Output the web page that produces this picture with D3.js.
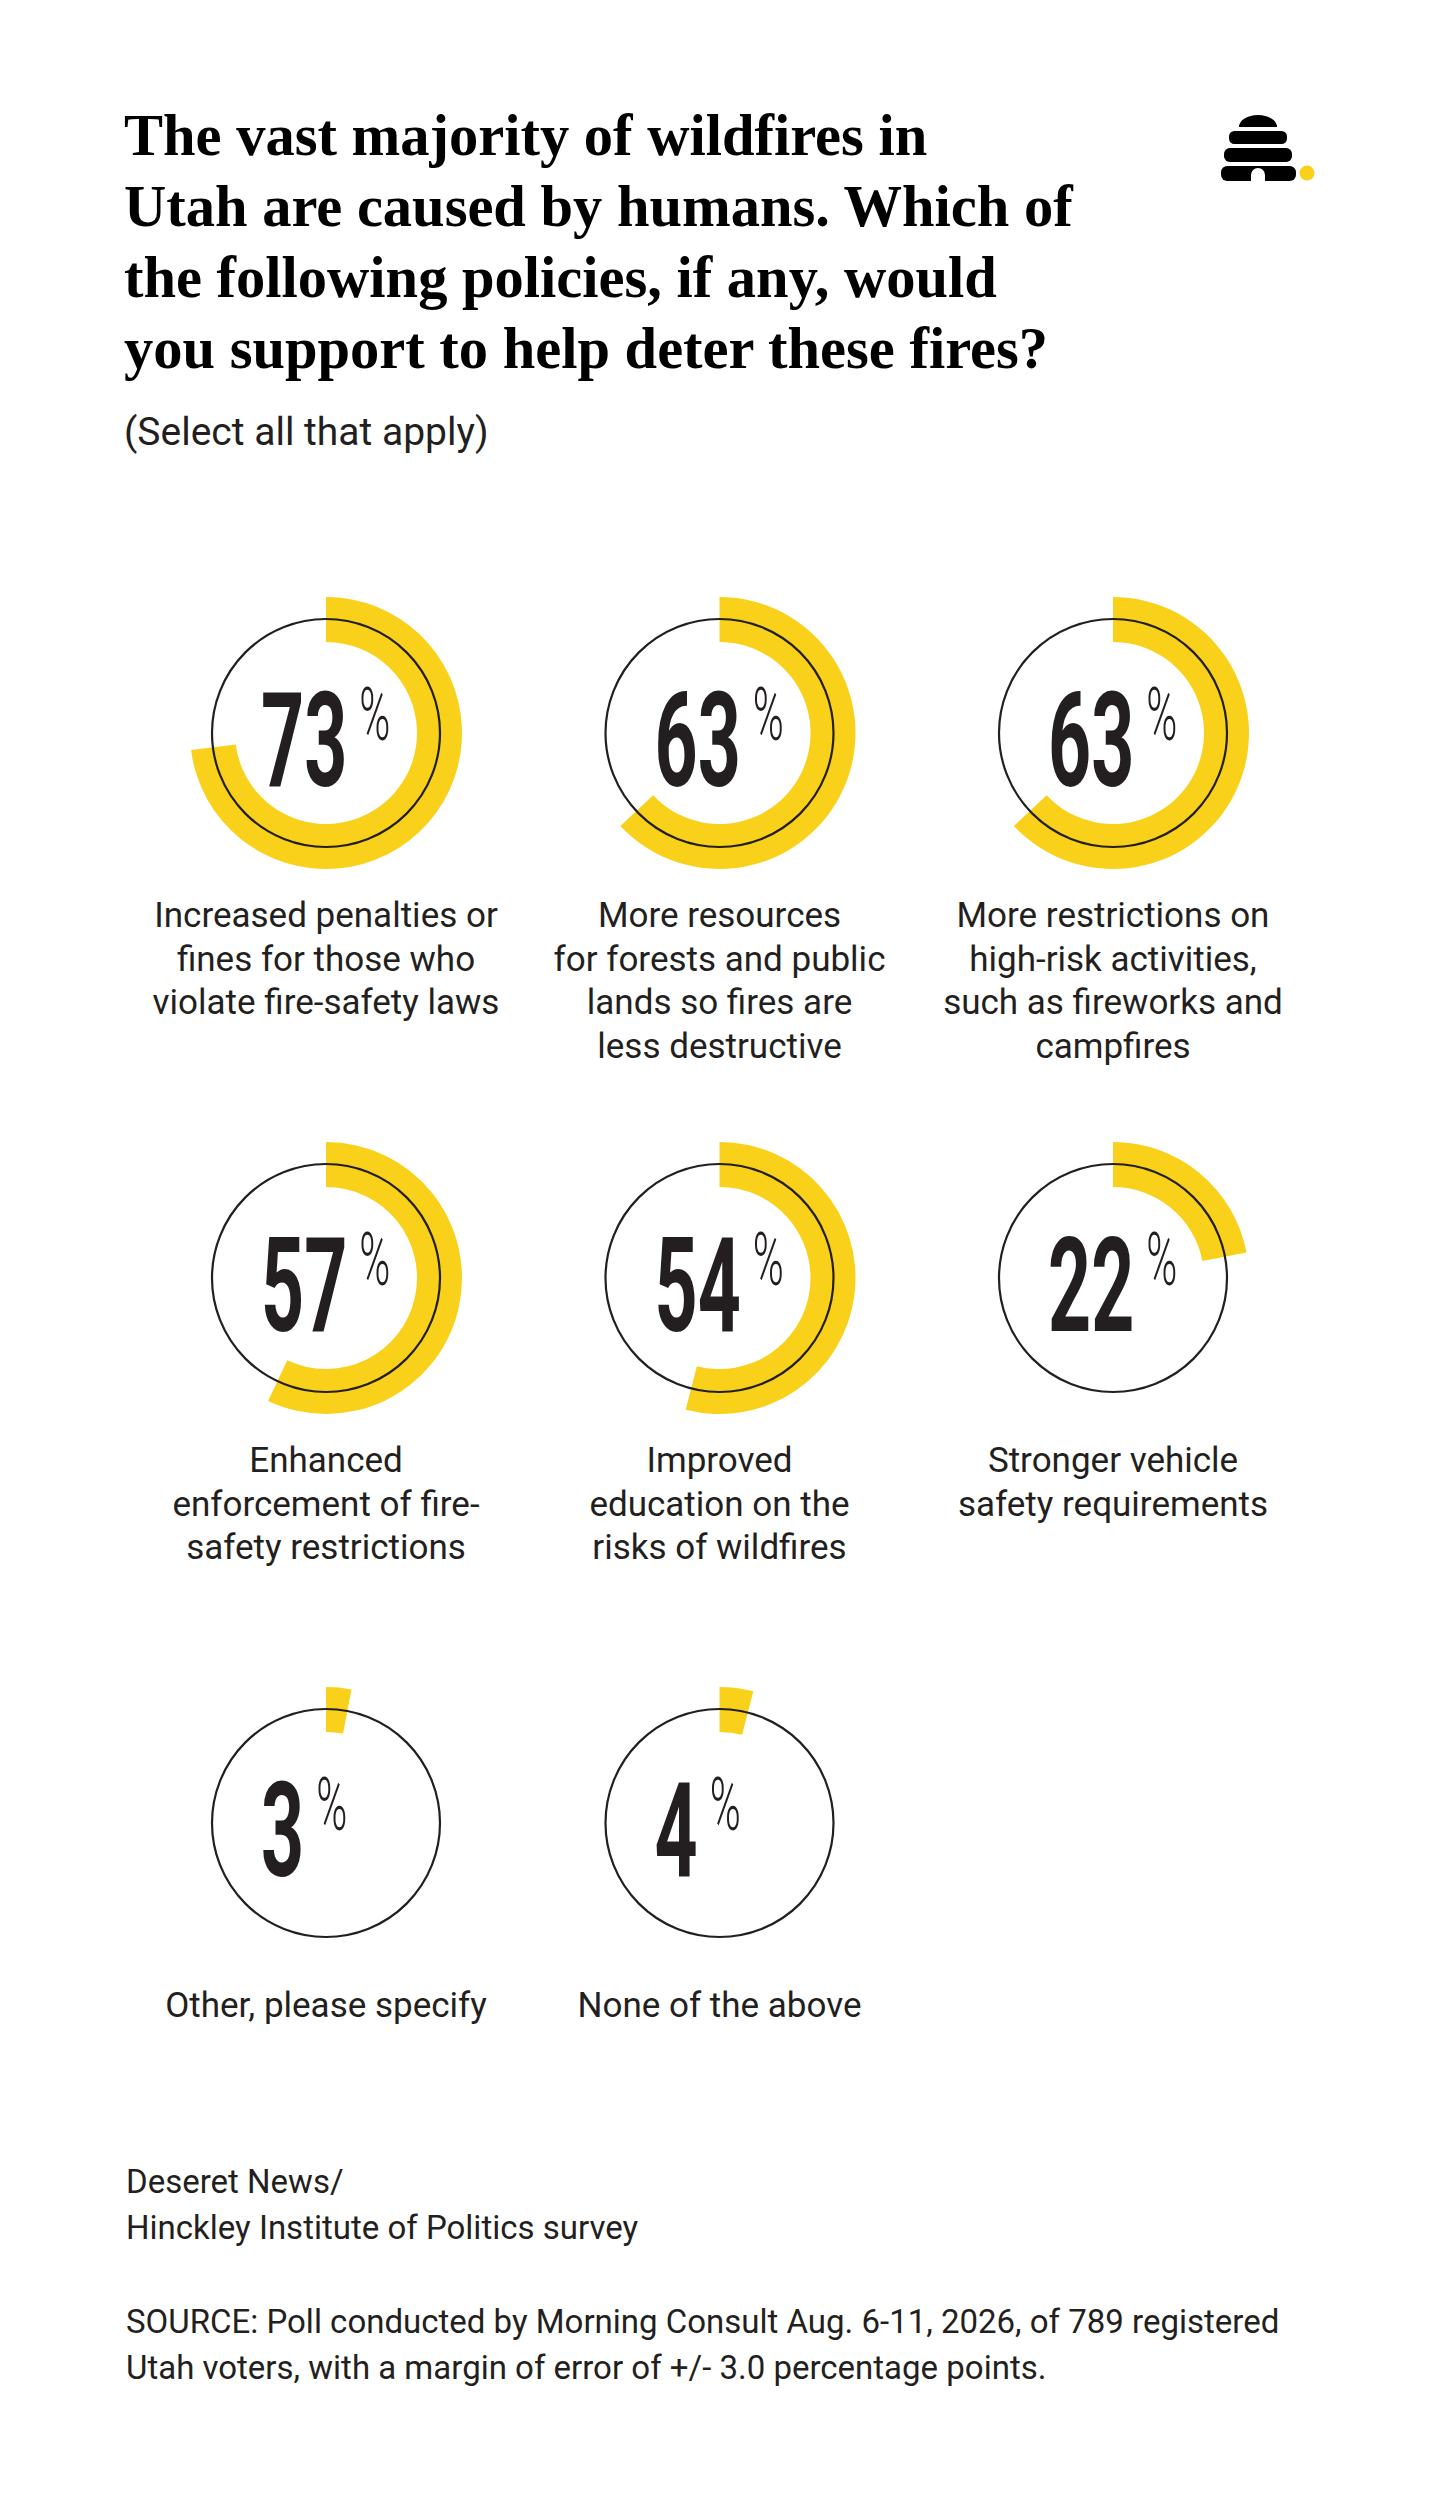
<!DOCTYPE html>
<html>
<head>
<meta charset="utf-8">
<script src="https://cdn.jsdelivr.net/npm/d3@7"></script>
<style>
  html, body { margin: 0; padding: 0; background: #fff; }
  svg { display: block; }
</style>
</head>
<body>
<svg id="chart" width="1440" height="2500"></svg>
<script>
// ---- data ----
const categories = [
  "Increased penalties or\nfines for those who\nviolate fire-safety laws",
  "More resources\nfor forests and public\nlands so fires are\nless destructive",
  "More restrictions on\nhigh-risk activities,\nsuch as fireworks and\ncampfires",
  "Enhanced\nenforcement of fire-\nsafety restrictions",
  "Improved\neducation on the\nrisks of wildfires",
  "Stronger vehicle\nsafety requirements",
  "Other, please specify",
  "None of the above"
];
const values = [73, 63, 63, 57, 54, 22, 3, 4];
const titleLines = [
  "The vast majority of wildfires in",
  "Utah are caused by humans. Which of",
  "the following policies, if any, would",
  "you support to help deter these fires?"
];
const subtitle = "(Select all that apply)";
const footerLines = ["Deseret News/", "Hinckley Institute of Politics survey"];
const sourceLines = [
  "SOURCE: Poll conducted by Morning Consult Aug. 6-11, 2026, of 789 registered",
  "Utah voters, with a margin of error of +/- 3.0 percentage points."
];

// ---- styles ----
const YELLOW = "#F9D11B";
const INK = "#231F20";
const SANS = "Roboto, 'Noto Sans', sans-serif";
const SERIF = "'Liberation Serif', 'DejaVu Serif', serif";

const svg = d3.select("#chart");

// title
svg.append("g").selectAll("text").data(titleLines).join("text")
  .attr("x", 124)
  .attr("y", (d, i) => 155 + i * 71)
  .attr("font-family", SERIF)
  .attr("font-weight", 700)
  .attr("font-size", 58.5)
  .attr("fill", "#000")
  .text(d => d);

svg.append("text")
  .attr("x", 124).attr("y", 445)
  .attr("font-family", SANS)
  .attr("font-size", 39)
  .attr("fill", INK)
  .text(subtitle);

// logo (beehive)
const logo = svg.append("g").attr("fill", "#000");
logo.append("path").attr("d", "M1239,127 A19,12 0 0 1 1277,127 Z");
[[1229, 1287, 131, 144], [1224, 1292, 148, 162], [1221, 1296, 166, 181]].forEach(s => {
  const [x0, x1, y0, y1] = s, h = y1 - y0;
  logo.append("rect").attr("x", x0).attr("y", y0).attr("width", x1 - x0).attr("height", h).attr("rx", h / 2.4);
});
logo.append("path").attr("d", "M1251,181 L1251,175 A7,7 0 0 1 1265,175 L1265,181 Z").attr("fill", "#fff");
svg.append("circle").attr("cx", 1307).attr("cy", 173).attr("r", 7.5).attr("fill", YELLOW);

// ---- donut grid ----
const colX = d3.scaleLinear().domain([0, 2]).range([326, 1113]);
const rowY = d3.scaleLinear().domain([0, 2]).range([733, 1823]);
const angle = d3.scaleLinear().domain([0, 100]).range([0, 2 * Math.PI]);
const arc = d3.arc().innerRadius(91).outerRadius(136);

const items = categories.map((c, i) => ({ label: c, value: values[i], col: i % 3, row: Math.floor(i / 3) }));

const cells = svg.append("g").selectAll("g.cell").data(items).join("g")
  .attr("class", "cell")
  .attr("transform", d => `translate(${colX(d.col)},${rowY(d.row)})`);

cells.append("path")
  .attr("d", d => arc({ startAngle: 0, endAngle: angle(d.value) }))
  .attr("fill", YELLOW);

cells.append("circle")
  .attr("r", 114)
  .attr("fill", "none")
  .attr("stroke", INK)
  .attr("stroke-width", 2.2);

const NUM_SX = 0.57, PCT_SX = 0.56;
cells.each(function (d) {
  const g = d3.select(this);
  const ng = g.append("g").attr("transform", `translate(-65,53) scale(${NUM_SX},1)`);
  const t = ng.append("text")
    .attr("x", 0).attr("y", 0)
    .attr("font-family", SANS)
    .attr("font-weight", 700)
    .attr("font-size", 132)
    .attr("fill", INK)
    .text(d.value);
  const w = t.node().getComputedTextLength() * NUM_SX;
  g.append("g").attr("transform", `translate(${-65 + w + 12},7) scale(${PCT_SX},1)`)
    .append("text")
    .attr("font-family", SANS)
    .attr("font-weight", 300)
    .attr("font-size", 75)
    .attr("fill", INK)
    .text("%");

  g.append("text")
    .attr("text-anchor", "middle")
    .attr("font-family", SANS)
    .attr("font-size", 35)
    .attr("fill", INK)
    .selectAll("tspan").data(d.label.split("\n")).join("tspan")
    .attr("x", 0)
    .attr("y", (l, i) => 194 + i * 43.6)
    .text(l => l);
});

// footer
svg.append("g").selectAll("text").data(footerLines).join("text")
  .attr("x", 126).attr("y", (d, i) => 2193 + i * 46)
  .attr("font-family", SANS).attr("font-size", 33).attr("fill", INK)
  .text(d => d);
svg.append("g").selectAll("text").data(sourceLines).join("text")
  .attr("x", 126).attr("y", (d, i) => 2333 + i * 46)
  .attr("font-family", SANS).attr("font-size", 33).attr("fill", INK)
  .text(d => d);
</script>
</body>
</html>
